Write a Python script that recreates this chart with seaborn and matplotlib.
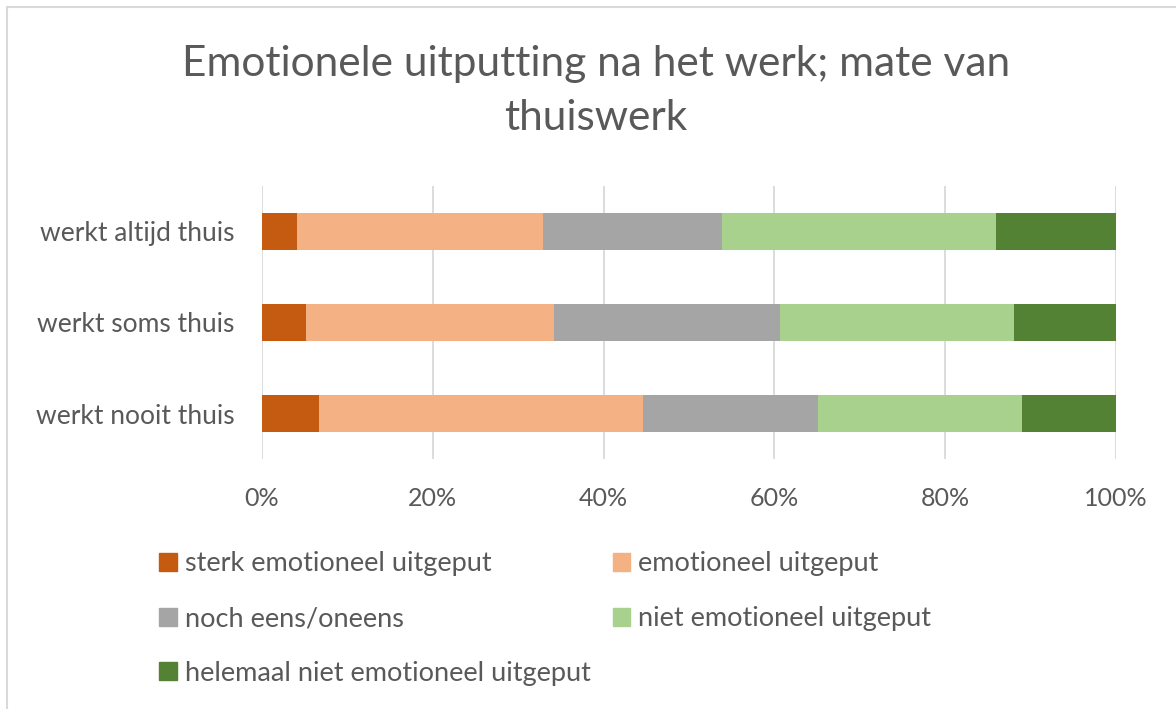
"""Stacked bar chart: emotional exhaustion by amount of home working"""

import numpy as np
import pandas as pd
import matplotlib
matplotlib.use("Agg")
import matplotlib.pyplot as plt
import matplotlib.patches as mpatches
import seaborn as sns

groups = ["werkt altijd thuis", "werkt soms thuis", "werkt nooit thuis"]
answers = ["sterk emotioneel uitgeput", "emotioneel uitgeput", "noch eens/oneens",
           "niet emotioneel uitgeput", "helemaal niet emotioneel uitgeput"]

sterk = [4.1, 5.2, 6.7]
emotioneel = [28.8, 29.0, 37.9]
noch = [21.0, 26.5, 20.5]
niet = [32.0, 27.4, 23.9]
helemaal = [14.1, 11.9, 11.0]

colors = ["#C55A11", "#F4B183", "#A5A5A5", "#A9D18E", "#548235"]
text_color = "#595959"


def build_frame():
    df = pd.DataFrame({"groep": groups})
    for name, vals in zip(answers, [sterk, emotioneel, noch, niet, helemaal]):
        df[name] = vals
    # cumulative sums so the bars can be layered from the back
    cum = df[answers].cumsum(axis=1)
    cum["groep"] = groups
    return cum


def main():
    sns.set_theme(style="white")
    plt.rcParams["font.family"] = ["Lato", "DejaVu Sans"]

    cum = build_frame()

    fig = plt.figure(figsize=(11.76, 7.09), dpi=100)
    ax = fig.add_axes([262 / 1176, 1 - 459 / 709, (1116 - 262) / 1176, (459 - 186) / 709])

    # draw from the largest cumulative value down
    for name, col in reversed(list(zip(answers, colors))):
        sns.barplot(data=cum, x=name, y="groep", order=groups, color=col,
                    width=0.4, saturation=1, ax=ax, linewidth=0)

    ax.set_xlim(0, 100)
    ax.set_ylim(2.5, -0.5)
    ax.set_xticks(np.arange(0, 101, 20))
    ax.set_xticklabels([f"{v}%" for v in range(0, 101, 20)])
    ax.set_xlabel("")
    ax.set_ylabel("")
    ax.xaxis.grid(True, color="#D9D9D9", linewidth=1.3)
    ax.set_axisbelow(True)
    for s in ax.spines.values():
        s.set_visible(False)
    ax.tick_params(axis="x", length=0, pad=20, labelsize=18, labelcolor=text_color)
    ax.tick_params(axis="y", length=0, pad=20, labelsize=19, labelcolor=text_color)

    fig.text(596 / 1176, 1 - 64 / 709, "Emotionele uitputting na het werk; mate van",
             ha="center", va="center", fontsize=30.5, color=text_color)
    fig.text(596 / 1176, 1 - 118 / 709, "thuiswerk",
             ha="center", va="center", fontsize=30.5, color=text_color)

    handles = [mpatches.Patch(color=c, label=a) for a, c in zip(answers, colors)]
    order = [0, 2, 4, 1, 3]
    fig.legend([handles[i] for i in order], [answers[i] for i in order],
               ncol=2, loc="upper left", bbox_to_anchor=(135 / 1176, 1 - 527 / 709),
               frameon=False, fontsize=19.5, labelcolor=text_color,
               handlelength=0.65, handleheight=0.65, handletextpad=0.3,
               labelspacing=1.1, columnspacing=0.8)

    # light chart frame on the top-left edges
    fig.patches.append(mpatches.Rectangle((7 / 1176, -0.1), 1.2, 1 - 7 / 709 + 0.1,
                                          transform=fig.transFigure, fill=False,
                                          edgecolor="#D9D9D9", linewidth=1.5))

    fig.savefig("out.png", dpi=100, facecolor="white")


if __name__ == "__main__":
    main()
